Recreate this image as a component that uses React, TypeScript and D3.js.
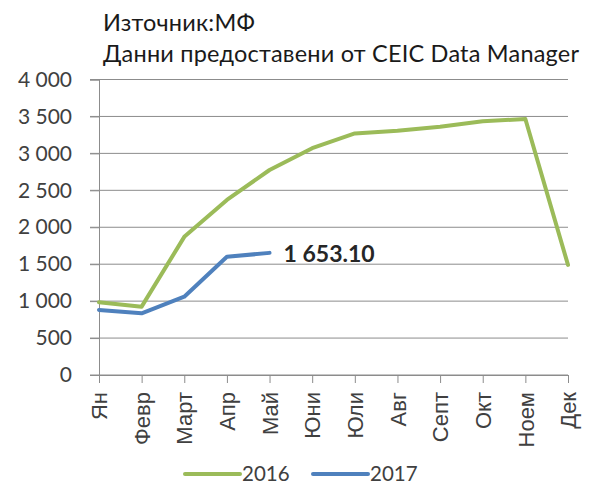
import React, { useEffect, useRef } from 'react';
import * as d3 from 'd3';

// месеци и стойности (разчетени от графиката)
const months = ['Ян', 'Февр', 'Март', 'Апр', 'Май', 'Юни', 'Юли', 'Авг', 'Септ', 'Окт', 'Ноем', 'Дек'];
const values2016 = [985, 925, 1870, 2370, 2775, 3070, 3270, 3305, 3360, 3435, 3465, 1490];
const values2017 = [880, 835, 1060, 1600, 1653.1];
const yTicks = [0, 500, 1000, 1500, 2000, 2500, 3000, 3500, 4000];
const titleLines = ['Източник:МФ', 'Данни предоставени от CEIC Data Manager'];
const seriesNames = ['2016', '2017'];
const seriesColors = ['#9BBB59', '#4F81BD'];

const App = () => {
  const svgRef = useRef<SVGSVGElement>(null);

  useEffect(() => {
    const svg = d3.select(svgRef.current);
    svg.selectAll('*').remove();

    const width = 590, height = 484;
    const margin = { top: 79.5, right: 22, bottom: 109, left: 99 };
    const font = 'Lato, "Open Sans", sans-serif';

    const x = d3.scalePoint<string>()
      .domain(months)
      .range([margin.left, width - margin.right]);

    const y = d3.scaleLinear()
      .domain([0, 4000])
      .range([height - margin.bottom, margin.top]);

    const fmt = (v: number) => d3.format(',')(v).replace(/,/g, ' ');

    // title
    svg.append('g')
      .selectAll('text')
      .data(titleLines)
      .enter()
      .append('text')
      .attr('x', 103)
      .attr('y', (d, i) => 31 + i * 31)
      .attr('font-family', font)
      .attr('font-size', 23.5)
      .attr('letter-spacing', 0.2)
      .attr('fill', '#1a1a1a')
      .text(d => d);

    // gridlines
    svg.append('g')
      .selectAll('line')
      .data(yTicks)
      .enter()
      .append('line')
      .attr('x1', margin.left - 9)
      .attr('x2', width - margin.right)
      .attr('y1', d => y(d))
      .attr('y2', d => y(d))
      .attr('stroke', '#8c8c8c')
      .attr('stroke-width', 1);

    // y axis
    const yAxis = svg.append('g')
      .attr('transform', `translate(${margin.left},0)`)
      .call(d3.axisLeft(y).tickValues(yTicks).tickSize(9).tickFormat(d => fmt(+d)));
    yAxis.select('.domain').attr('stroke', '#8c8c8c');
    yAxis.selectAll('.tick line').attr('stroke', '#8c8c8c');
    yAxis.selectAll('.tick text')
      .attr('x', -27)
      .attr('font-family', font)
      .attr('font-size', 21)
      .attr('fill', '#404040');

    // x axis
    const xAxis = svg.append('g')
      .attr('transform', `translate(0,${y(0)})`)
      .call(d3.axisBottom(x).tickSize(8));
    xAxis.select('.domain').attr('stroke', '#8c8c8c');
    xAxis.selectAll('.tick line').attr('stroke', '#8c8c8c');
    xAxis.selectAll('.tick text')
      .attr('transform', 'rotate(-90)')
      .attr('x', -17)
      .attr('y', 0)
      .attr('dy', '0.35em')
      .attr('text-anchor', 'end')
      .attr('font-family', '"Liberation Sans", Arial, sans-serif')
      .attr('font-size', 22)
      .attr('fill', '#404040');

    const line = d3.line<number>()
      .x((d, i) => x(months[i]) as number)
      .y(d => y(d));

    [values2016, values2017].forEach((vals, i) => {
      svg.append('path')
        .datum(vals)
        .attr('d', line)
        .attr('fill', 'none')
        .attr('stroke', seriesColors[i])
        .attr('stroke-width', 4)
        .attr('stroke-linejoin', 'round')
        .attr('stroke-linecap', 'round');
    });

    // label on last 2017 value
    const lastIdx = values2017.length - 1;
    svg.append('text')
      .attr('x', (x(months[lastIdx]) as number) + 14)
      .attr('y', y(values2017[lastIdx]) + 9)
      .attr('font-family', font)
      .attr('font-size', 23)
      .attr('font-weight', 'bold')
      .attr('fill', '#262626')
      .text(d3.format(',.2f')(values2017[lastIdx]).replace(/,/g, ' '));

    // legend
    const legend = svg.append('g')
      .selectAll('g')
      .data(seriesNames)
      .enter()
      .append('g')
      .attr('transform', (d, i) => `translate(${185 + i * 128},474)`);
    legend.append('line')
      .attr('x1', 0)
      .attr('x2', 55)
      .attr('stroke', (d, i) => seriesColors[i])
      .attr('stroke-width', 4)
      .attr('stroke-linecap', 'round');
    legend.append('text')
      .attr('x', 57)
      .attr('y', 7)
      .attr('font-family', font)
      .attr('font-size', 20.5)
      .attr('fill', '#404040')
      .text(d => d);
  }, []);

  return (
    <svg ref={svgRef} width={590} height={484} style={{ position: 'absolute', left: 0, top: 0, background: '#fff' }} />
  );
};

export default App;
